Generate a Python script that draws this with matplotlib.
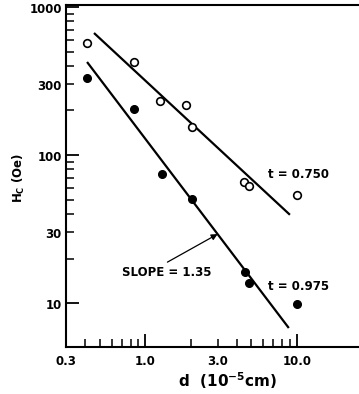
import numpy as np
import matplotlib
matplotlib.use("Agg")
import matplotlib.pyplot as plt
from matplotlib.ticker import FixedLocator, NullFormatter

# Coercive field vs. particle size, two reduced temperatures
d_750 = [0.413, 0.845, 1.26, 1.87, 2.02, 4.46, 4.81, 10.0]
hc_750 = [571, 425, 232, 218, 155, 65.8, 61.8, 53.7]

d_975 = [0.413, 0.845, 1.28, 2.02, 4.53, 4.81, 10.0]
hc_975 = [331, 205, 74.5, 50.5, 16.2, 13.6, 9.85]

# Fitted power laws: H_c = A * d^(-slope)
fit_750_range = [0.459, 9.0]
fit_750_anchor = (0.459, 667)
fit_750_slope = 0.95

fit_975_range = [0.413, 8.85]
fit_975_anchor = (0.413, 425)
fit_975_slope = 1.35

x_tick_values = [0.3, 1.0, 3.0, 10.0]
x_tick_labels = ["0.3", "1.0", "3.0", "10.0"]
y_tick_values = [10, 30, 100, 300, 1000]
y_tick_labels = ["10", "30", "100", "300", "1000"]

W, H = 359, 394
fig = plt.figure(figsize=(W / 100, H / 100), dpi=100)
ax = fig.add_axes([66 / W, 47 / H, 1 - 66 / W, (347 - 5) / H])
ax.set_xscale("log")
ax.set_yscale("log")
ax.set_xlim(0.3, 25.7)
ax.set_ylim(5.05, 1031)


def power_line(xr, anchor, slope):
    x = np.array(xr, dtype=float)
    x0, y0 = anchor
    return x, y0 * (x / x0) ** (-slope)


lw = 1.6
x, y = power_line(fit_750_range, fit_750_anchor, fit_750_slope)
ax.plot(x, y, color="black", lw=lw, solid_capstyle="butt")
x, y = power_line(fit_975_range, fit_975_anchor, fit_975_slope)
ax.plot(x, y, color="black", lw=lw, solid_capstyle="butt")

ax.plot(d_750, hc_750, "o", ms=5.5, mfc="white", mec="black", mew=1.2,
        linestyle="none", zorder=3)
ax.plot(d_975, hc_975, "o", ms=5.5, mfc="black", mec="black",
        linestyle="none", zorder=3)

# Arrow pointing at the steeper fit
arrow_x = 3.0
arrow_y = fit_975_anchor[1] * (arrow_x / fit_975_anchor[0]) ** (-fit_975_slope)
ax.annotate("", xy=(arrow_x, arrow_y), xytext=(1.40, 18.9),
            arrowprops=dict(arrowstyle="-|>", color="black", lw=0.9,
                            mutation_scale=9, shrinkA=0, shrinkB=0))

txt = dict(fontsize=8.5, color="black", fontweight="bold", family="DejaVu Sans")
ax.text(0.70, 16.2, f"SLOPE = {fit_975_slope:.2f}", ha="left", va="center", **txt)
ax.text(6.43, 73.3, "t = 0.750", ha="left", va="center", **txt)
ax.text(6.43, 13.0, "t = 0.975", ha="left", va="center", **txt)

# Axes styling: open on the right, ticks pointing inward
ax.spines["right"].set_visible(False)
for s in ("left", "bottom", "top"):
    ax.spines[s].set_linewidth(1.5)

x_minor = [0.4, 0.5, 0.6, 0.7, 0.8, 0.9, 2, 3, 4, 5, 6, 7, 8, 9]
x_major = [1.0, 10.0]
ax.xaxis.set_major_locator(FixedLocator(x_major))
ax.xaxis.set_minor_locator(FixedLocator(x_minor))
ax.xaxis.set_major_formatter(NullFormatter())
ax.xaxis.set_minor_formatter(NullFormatter())

y_minor = [20, 30, 40, 50, 60, 70, 80, 90, 200, 300, 400, 500, 600, 700, 800, 900]
y_major = [10, 100, 1000]
ax.yaxis.set_major_locator(FixedLocator(y_major))
ax.yaxis.set_minor_locator(FixedLocator(y_minor))
ax.yaxis.set_major_formatter(NullFormatter())
ax.yaxis.set_minor_formatter(NullFormatter())

ax.tick_params(which="major", direction="in", length=9.5, width=1.3,
               top=False, right=False)
ax.tick_params(which="minor", direction="in", length=6, width=1.1,
               top=False, right=False)

lab = dict(fontsize=8.5, fontweight="bold", color="black", family="DejaVu Sans")
for v, s in zip(x_tick_values, x_tick_labels):
    ax.annotate(s, xy=(v, 0), xycoords=("data", "axes fraction"),
                xytext=(0, -6), textcoords="offset points", ha="center", va="top",
                **lab)
for v, s in zip(y_tick_values, y_tick_labels):
    ax.annotate(s, xy=(0, v), xycoords=("axes fraction", "data"),
                xytext=(-3, -1.5), textcoords="offset points", ha="right", va="center",
                **lab)

fig.text(228 / W, 1 - 381 / H, r"d  (10$^{\mathbf{-5}}$cm)", ha="center", va="center",
         fontsize=11, fontweight="bold", family="DejaVu Sans")
fig.text(19 / W, 1 - 178 / H, r"H$_{\mathbf{C}}$ (Oe)", ha="center", va="center",
         rotation=90, fontsize=8.5, fontweight="bold", family="DejaVu Sans")

fig.savefig("out.png", dpi=100, facecolor="white")
